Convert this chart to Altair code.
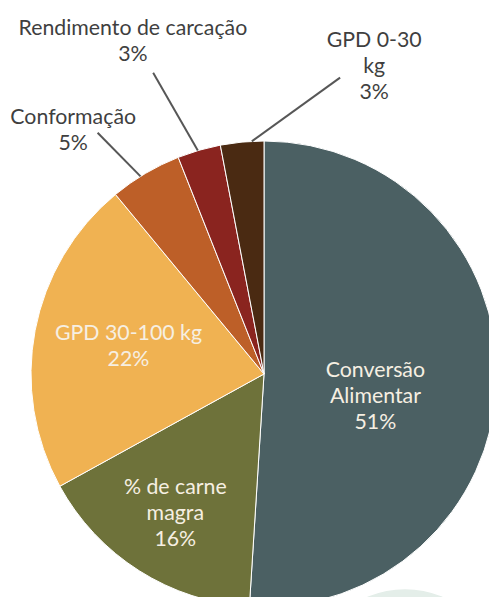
import altair as alt
import numpy as np
import pandas as pd

# ---- data ----
labels = ["Conversão Alimentar", "% de carne magra", "GPD 30-100 kg",
          "Conformação", "Rendimento de carcação", "GPD 0-30 kg"]
values = [51, 16, 22, 5, 3, 3]
label_lines = ["Conversão\nAlimentar", "% de carne\nmagra", "GPD 30-100 kg",
               "Conformação", "Rendimento de carcação", "GPD 0-30\nkg"]
colors = ["#4b6063", "#6e723a", "#f0b252", "#bd5f28", "#8a241f", "#4a2a12"]
inside = [True, True, True, False, False, False]

# ---- layout (pixels, view coordinates; page = view + 8) ----
W, H = 481, 589
CX, CY = 256, 366
R = 233
FONT = "Lato"
FS = 21.3
LH = 26
DY = 4
# label block centre: angle offset from slice mid-angle (deg) and radius
lab_dang = [7.9, 0.8, 2.0, -7.1, -5.1, 24.9]
lab_r = [113, 162, 139, 312, 361, 330]
# leader lines: start angle offset, end angle offset, end radius
ln_start = [0, 0, 0, -1.4, -0.3, 2.4]
ln_end = [0, 0, 0, -4.0, -4.0, 19.8]
ln_r = [0, 0, 0, 293, 321, 306]

vals = np.array(values, dtype=float)
cum = np.cumsum(vals) - vals / 2
mid = cum / vals.sum() * 360.0


def polar(ang_deg, r):
    a = np.radians(ang_deg)
    return CX + r * np.sin(a), CY - r * np.cos(a)


texts = [f"{t}\n{v}%" for t, v in zip(label_lines, values)]
nlines = np.array([t.count("\n") + 1 for t in texts])

lx, ly = polar(mid + np.array(lab_dang), np.array(lab_r))
ly = ly - (nlines - 1) * LH / 2.0  # first-line position of a centred block
sx, sy = polar(mid + np.array(ln_start), R)
ex, ey = polar(mid + np.array(ln_end), np.array(ln_r))

df = pd.DataFrame({
    "label": labels,
    "value": values,
    "order": list(range(len(labels))),
    "text": texts,
    "inside": inside,
    "lx": lx, "ly": ly, "sx": sx, "sy": sy, "ex": ex, "ey": ey,
})

deco = pd.DataFrame({"x": [CX + 141], "y": [CY + 310]})

background = alt.Chart(deco).mark_circle(
    size=np.pi * 107 ** 2, color="#e4eee9", opacity=1
).encode(
    x=alt.X("x:Q", scale=None, axis=None),
    y=alt.Y("y:Q", scale=None, axis=None),
)

pie = alt.Chart(df).mark_arc(outerRadius=R, stroke="#ffffff", strokeWidth=1).encode(
    theta=alt.Theta("value:Q", stack=True),
    color=alt.Color("label:N", scale=alt.Scale(domain=labels, range=colors), legend=None),
    order=alt.Order("order:Q"),
    x=alt.value(CX),
    y=alt.value(CY),
)

lines = alt.Chart(df).transform_filter("!datum.inside").mark_rule(
    color="#575757", strokeWidth=2
).encode(
    x=alt.X("sx:Q", scale=None, axis=None),
    y=alt.Y("sy:Q", scale=None, axis=None),
    x2="ex:Q",
    y2="ey:Q",
)

text_in = alt.Chart(df).transform_filter("datum.inside").mark_text(
    font=FONT, fontSize=FS, lineHeight=LH, color="#f6efe2", dy=DY,
    align="center", baseline="middle", lineBreak="\n"
).encode(
    x=alt.X("lx:Q", scale=None, axis=None),
    y=alt.Y("ly:Q", scale=None, axis=None),
    text="text:N",
)

text_out = alt.Chart(df).transform_filter("!datum.inside").mark_text(
    font=FONT, fontSize=FS, lineHeight=LH, color="#3f3f3f", dy=DY,
    align="center", baseline="middle", lineBreak="\n"
).encode(
    x=alt.X("lx:Q", scale=None, axis=None),
    y=alt.Y("ly:Q", scale=None, axis=None),
    text="text:N",
)

chart = alt.layer(background, pie, lines, text_in, text_out).properties(
    width=W, height=H, padding=0,
    autosize=alt.AutoSizeParams(type="none"),
).configure_view(stroke=None)

chart.save("out.html", embed_options={"renderer": "svg", "actions": False})
